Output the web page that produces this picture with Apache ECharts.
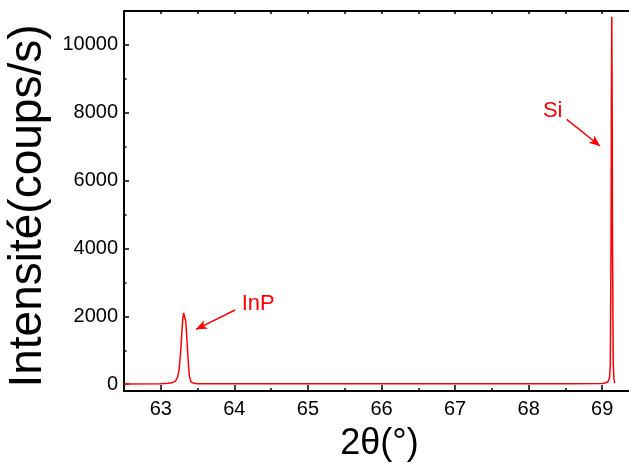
<!DOCTYPE html>
<html>
<head>
<meta charset="utf-8">
<script src="https://cdn.jsdelivr.net/npm/echarts@6/dist/echarts.min.js"></script>
<style>
html, body { margin: 0; padding: 0; overflow: hidden; background: #fff; width: 629px; height: 464px; }
#chart { width: 640px; height: 464px; }
</style>
</head>
<body>
<div id="chart"></div>
<script>
// 2θ (degrees)
const twoTheta = [62.5, 63.0, 63.1, 63.15, 63.2, 63.23, 63.25, 63.27, 63.28, 63.29, 63.30, 63.31, 63.32, 63.33, 63.34, 63.35, 63.36, 63.37, 63.38, 63.39, 63.41, 63.45, 63.5,
  64.0, 65.0, 66.0, 67.0, 68.0, 68.5, 69.0, 69.05, 69.08, 69.10, 69.11, 69.12, 69.125, 69.13, 69.135, 69.14, 69.15, 69.16, 69.17];
// Intensity (counts/s)
const intensity = [10, 15, 25, 40, 90, 220, 450, 950, 1300, 1650, 1950, 2100, 2150, 2090, 1850, 1500, 1150, 780, 450, 230, 70, 25, 15,
  12, 12, 12, 12, 12, 15, 20, 40, 80, 200, 600, 4000, 8500, 10830, 8500, 4000, 600, 150, 30];

const xTicks = [63, 64, 65, 66, 67, 68, 69];
const yTicks = [0, 2000, 4000, 6000, 8000, 10000];

// annotations: label, text position [2θ, I], arrow tail [2θ, I], arrow head [2θ, I]
const annotLabels = ['InP', 'Si'];
const annotText = [[64.325, 2372], [68.327, 8055]];
const annotTail = [[64.01, 2187], [68.517, 7807]];
const annotHead = [[63.479, 1618], [68.97, 7020]];

const FONT = 'Liberation Sans, Arial, Helvetica, sans-serif';
const points = twoTheta.map((x, i) => [x, intensity[i]]);

const chart = echarts.init(document.getElementById('chart'), null, { renderer: 'canvas' });

const commonX = { type: 'value', min: 62.5, max: 69.5, splitLine: { show: false } };
const commonY = { type: 'value', min: -200, max: 11000, splitLine: { show: false } };

chart.setOption({
  animation: false,
  backgroundColor: '#ffffff',
  grid: { left: 124, right: 1, top: 11, bottom: 73, containLabel: false, outerBoundsMode: 'none' },
  xAxis: [
    Object.assign({}, commonX, {
      position: 'bottom',
      splitNumber: 7,
      name: '2θ(°)',
      nameLocation: 'middle',
      nameGap: 35,
      nameTextStyle: { fontFamily: FONT, fontSize: 36, color: '#000', padding: [0, 4, 0, 0] },
      axisLine: { show: true, onZero: false, lineStyle: { color: '#000', width: 2 } },
      axisTick: { show: true, inside: true, length: 6, lineStyle: { color: '#000', width: 1.5 } },
      axisLabel: {
        show: true, margin: 8, fontFamily: FONT, fontSize: 20, color: '#000',
        showMinLabel: false, showMaxLabel: false,
        formatter: v => (xTicks.indexOf(v) >= 0 ? String(v) : '')
      }
    }),
    Object.assign({}, commonX, {
      position: 'bottom',
      interval: 0.5,
      axisLine: { show: false, onZero: false },
      axisTick: { show: true, inside: true, length: 3, lineStyle: { color: '#000', width: 1.5 } },
      axisLabel: { show: false }
    }),
    Object.assign({}, commonX, {
      position: 'top',
      interval: 0.5,
      axisLine: { show: true, onZero: false, lineStyle: { color: '#000', width: 2 } },
      axisTick: { show: true, inside: true, length: 3, lineStyle: { color: '#000', width: 1.5 } },
      axisLabel: { show: false }
    })
  ],
  yAxis: [
    Object.assign({}, commonY, {
      position: 'left',
      splitNumber: 5,
      name: 'Intensité(coups/s)',
      nameLocation: 'middle',
      nameGap: 71,
      nameTextStyle: { fontFamily: FONT, fontSize: 46, color: '#000', padding: [0, 10, 0, 0] },
      axisLine: { show: true, onZero: false, lineStyle: { color: '#000', width: 2 } },
      axisTick: { show: true, inside: true, length: 5, lineStyle: { color: '#000', width: 1.5 } },
      axisLabel: {
        show: true, margin: 6, fontFamily: FONT, fontSize: 20, color: '#000',
        showMinLabel: false, showMaxLabel: false,
        formatter: v => (yTicks.indexOf(v) >= 0 ? String(v) : '')
      }
    }),
    Object.assign({}, commonY, {
      position: 'left',
      splitNumber: 11,
      axisLine: { show: false, onZero: false },
      axisTick: { show: true, inside: true, length: 2.5, lineStyle: { color: '#000', width: 1.5 } },
      axisLabel: { show: false }
    })
  ],
  series: [
    {
      type: 'line',
      xAxisIndex: 0,
      yAxisIndex: 0,
      data: points,
      showSymbol: false,
      symbol: 'none',
      lineStyle: { color: '#ff0000', width: 1.5 },
      itemStyle: { color: '#ff0000' },
      clip: true,
      markLine: {
        silent: true,
        symbol: ['none', 'arrow'],
        symbolSize: [7, 11],
        label: { show: false },
        lineStyle: { color: '#ff0000', width: 1.5, type: 'solid' },
        data: annotTail.map((t, i) => [{ coord: t }, { coord: annotHead[i] }])
      },
      markPoint: {
        silent: true,
        symbol: 'circle',
        symbolSize: 1,
        itemStyle: { color: 'rgba(0,0,0,0)' },
        label: {
          show: true,
          position: 'inside',
          fontFamily: FONT,
          fontSize: 22,
          color: '#ff0000',
          formatter: p => p.name
        },
        data: annotLabels.map((name, i) => ({ name: name, coord: annotText[i] }))
      }
    }
  ]
});
</script>
</body>
</html>
